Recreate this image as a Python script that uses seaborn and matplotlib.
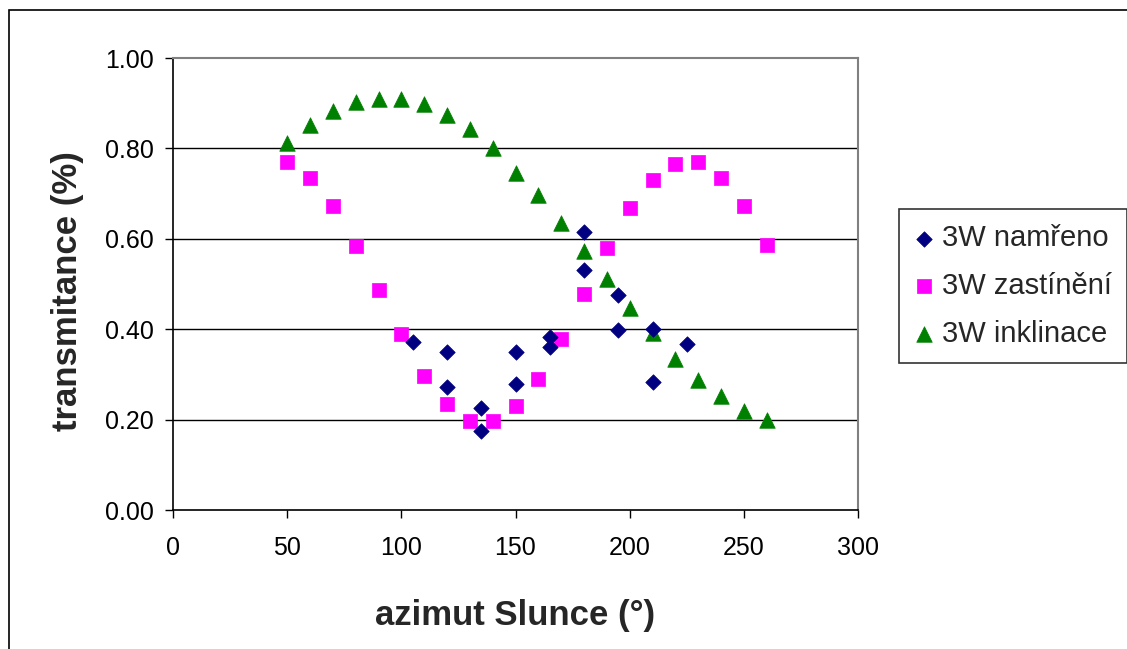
import matplotlib
matplotlib.use("Agg")
import matplotlib.pyplot as plt
import matplotlib.patches as mpatches
import seaborn as sns
import pandas as pd

# ---- data ----
namereno_x = [105, 120, 120, 135, 135, 150, 150, 165, 165, 180, 180, 195, 195, 210, 210, 225]
namereno_y = [0.371, 0.350, 0.273, 0.226, 0.175, 0.350, 0.278, 0.383, 0.361,
              0.614, 0.531, 0.476, 0.398, 0.400, 0.284, 0.367]

zastineni_x = [50, 60, 70, 80, 90, 100, 110, 120, 130, 140, 150, 160, 170,
               180, 190, 200, 210, 220, 230, 240, 250, 260]
zastineni_y = [0.771, 0.735, 0.673, 0.585, 0.487, 0.389, 0.296, 0.234, 0.197, 0.197,
               0.229, 0.290, 0.378, 0.477, 0.580, 0.668, 0.730, 0.766, 0.771, 0.735,
               0.673, 0.586]

inklinace_x = [50, 60, 70, 80, 90, 100, 110, 120, 130, 140, 150, 160, 170,
               180, 190, 200, 210, 220, 230, 240, 250, 260]
inklinace_y = [0.812, 0.852, 0.883, 0.903, 0.909, 0.909, 0.898, 0.873, 0.842, 0.800,
               0.746, 0.696, 0.635, 0.572, 0.510, 0.448, 0.392, 0.334, 0.288, 0.252,
               0.220, 0.199]

series_names = ["3W namřeno", "3W zastínění", "3W inklinace"]
x_ticks = [0, 50, 100, 150, 200, 250, 300]
y_ticks = [0.0, 0.2, 0.4, 0.6, 0.8, 1.0]
x_label = "azimut Slunce (°)"
y_label = "transmitance (%)"

# ---- style ----
sns.set_style("white")
plt.rcParams["font.family"] = ["Liberation Sans", "DejaVu Sans"]

W, H = 1127, 649
fig = plt.figure(figsize=(W / 100, H / 100), dpi=100)
ax = fig.add_axes([173 / W, 1 - 510 / H, 685 / W, 452 / H])

df_n = pd.DataFrame({"x": namereno_x, "y": namereno_y})
df_z = pd.DataFrame({"x": zastineni_x, "y": zastineni_y})
df_i = pd.DataFrame({"x": inklinace_x, "y": inklinace_y})

sns.scatterplot(data=df_i, x="x", y="y", ax=ax, marker="^", s=125, color="#008000",
                edgecolor="#008000", linewidth=0.5, label=series_names[2], zorder=3)
sns.scatterplot(data=df_z, x="x", y="y", ax=ax, marker="s", s=100, color="#FF00FF",
                edgecolor="#FF00FF", linewidth=0.5, label=series_names[1], zorder=4)
sns.scatterplot(data=df_n, x="x", y="y", ax=ax, marker="D", s=62, color="#000080",
                edgecolor="#000080", linewidth=0.5, label=series_names[0], zorder=5)

ax.set_xlim(0, 300)
ax.set_ylim(0, 1.0)
ax.set_xticks(x_ticks)
ax.set_yticks(y_ticks)
ax.set_xticklabels([str(v) for v in x_ticks])
ax.set_yticklabels([f"{v:.2f}" for v in y_ticks])
ax.tick_params(axis="both", which="major", direction="out", length=6, width=1,
               color="black", labelsize=18, labelcolor="black", left=True, bottom=True)
ax.tick_params(axis="y", pad=8)
ax.tick_params(axis="x", pad=13)

for yv in y_ticks[1:-1]:
    ax.axhline(yv, color="black", linewidth=1, zorder=1)

for side in ["left", "bottom"]:
    ax.spines[side].set_color("black")
    ax.spines[side].set_linewidth(1.2)
for side in ["top", "right"]:
    ax.spines[side].set_color("#808080")
    ax.spines[side].set_linewidth(1.5)

ax.set_xlabel(x_label, fontsize=25, fontweight="bold", va="center")
ax.xaxis.set_label_coords(0.5, (510 - 616) / 452)
ax.set_ylabel(y_label, fontsize=25, fontweight="bold", va="center")
ax.yaxis.set_label_coords((68 - 173) / 685, (510 - 291) / 452)

# legend in original order
handles, labels = ax.get_legend_handles_labels()
order = [labels.index(n) for n in series_names]
ax.get_legend().remove()
leg = fig.legend([handles[i] for i in order], [labels[i] for i in order],
                 loc="upper left", bbox_to_anchor=(899 / W, 1 - 209 / H),
                 frameon=True, fancybox=False, shadow=False, fontsize=21,
                 handletextpad=0.25, labelspacing=0.68, borderpad=0.52,
                 handlelength=0.7, borderaxespad=0)
leg.get_frame().set_edgecolor("black")
leg.get_frame().set_linewidth(1.2)

# outer chart border
fig.patches.append(mpatches.Rectangle((9 / W, -0.5), 2.0, 1 - 10 / H + 0.5,
                                      transform=fig.transFigure, fill=False,
                                      edgecolor="black", linewidth=1.2))

fig.savefig("out.png", dpi=100)
